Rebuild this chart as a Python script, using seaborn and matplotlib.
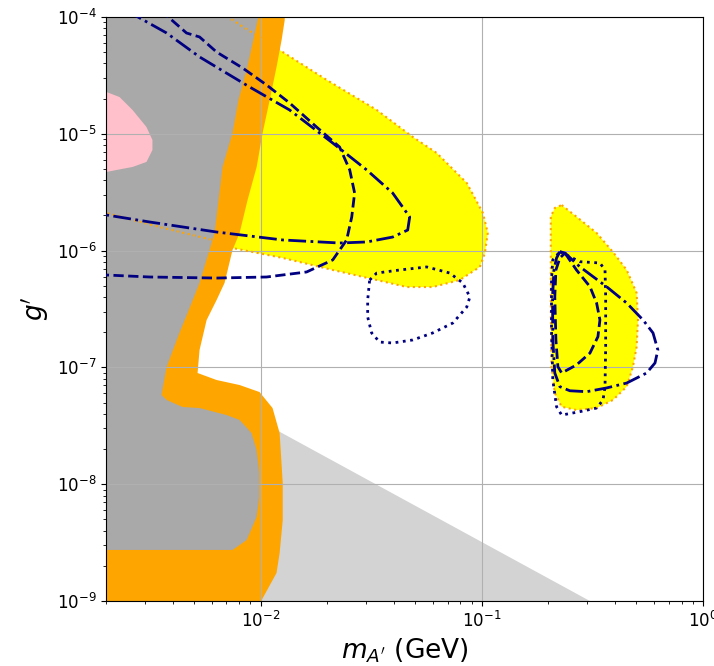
import numpy as np
import matplotlib
matplotlib.use("Agg")
import matplotlib.pyplot as plt
import seaborn as sns

# ---------------------------------------------------------------
# Exclusion / sensitivity regions in the (m_A', g') plane.
# All coordinates are stored as log10 values: log10(m / GeV), log10(g').
# ---------------------------------------------------------------

# Excluded region from beam dump / supernova (dark gray, left)
gray_logm = [-2.75, -2.005, -2.010, -2.060, -2.100, -2.127, -2.172, -2.208, -2.276,
             -2.330, -2.367, -2.425, -2.448, -2.425, -2.353, -2.276, -2.154, -2.095,
             -2.041, -2.018, -2.005, -2.005, -2.018, -2.063, -2.127, -2.75]
gray_logg = [-3.94, -3.94, -4.0, -4.428, -4.711, -4.993, -5.284, -5.849, -6.277,
             -6.534, -6.705, -6.997, -7.236, -7.279, -7.339, -7.348, -7.408, -7.450,
             -7.562, -7.707, -7.904, -8.110, -8.281, -8.478, -8.563, -8.563]

# Orange band
orange_logm = [-2.75, -1.891, -1.891, -1.905, -1.928, -1.959, -1.991, -2.018, -2.059,
               -2.095, -2.127, -2.163, -2.199, -2.244, -2.276, -2.285, -2.199, -2.095,
               -2.005, -1.946, -1.914, -1.900, -1.900, -1.914, -1.928, -1.995, -2.005,
               -2.75]
orange_logg = [-3.94, -3.94, -4.026, -4.197, -4.428, -4.711, -4.993, -5.284, -5.567,
               -5.849, -5.995, -6.277, -6.423, -6.594, -6.851, -7.048, -7.108, -7.151,
               -7.211, -7.348, -7.562, -7.990, -8.307, -8.589, -8.760, -8.991, -9.05,
               -9.05]

# Light gray wedge (cosmology bound)
lgray_logm = [-2.02, -2.02, -1.914, -0.463]
lgray_logg = [-9.05, -7.45, -7.551, -9.05]

# Pink island
pink_logm = [-2.75, -2.697, -2.638, -2.579, -2.516, -2.489, -2.489, -2.516, -2.579,
             -2.652, -2.697, -2.75]
pink_logg = [-4.63, -4.642, -4.685, -4.796, -4.942, -5.053, -5.139, -5.241, -5.284,
             -5.310, -5.327, -5.33]

# Yellow projected-reach regions
yellow1_logm = [-2.195, -2.127, -2.036, -1.968, -1.914, -1.701, -1.475, -1.312, -1.204,
                -1.068, -0.995, -0.973, -0.986, -1.009, -1.100, -1.222, -1.339, -1.475,
                -1.674, -1.900, -2.127, -2.217, -2.457, -2.697, -2.75, -2.75]
yellow1_logg = [-3.94, -4.026, -4.137, -4.214, -4.283, -4.539, -4.796, -5.027, -5.164,
                -5.421, -5.678, -5.849, -6.021, -6.140, -6.252, -6.312, -6.312, -6.252,
                -6.166, -6.063, -5.978, -5.909, -5.798, -5.678, -5.67, -3.94]

yellow2_logm = [-0.639, -0.572, -0.481, -0.407, -0.345, -0.300, -0.294, -0.300, -0.317,
                -0.345, -0.407, -0.481, -0.572, -0.639, -0.670, -0.685, -0.688, -0.688,
                -0.688, -0.670, -0.639]
yellow2_logg = [-5.610, -5.710, -5.849, -6.012, -6.166, -6.363, -6.594, -6.823, -6.997,
                -7.165, -7.279, -7.348, -7.365, -7.337, -7.219, -6.994, -6.534, -5.967,
                -5.710, -5.635, -5.610]

# Dash-dot contour
dashdot1_logm = [-2.611, -2.425, -2.276, -2.050, -1.869, -1.674, -1.520, -1.403, -1.326,
                 -1.335, -1.403, -1.520, -1.643, -1.900, -2.199, -2.502, -2.697, -2.75]
dashdot1_logg = [-3.94, -4.137, -4.342, -4.599, -4.796, -5.079, -5.310, -5.507, -5.712,
                 -5.824, -5.884, -5.926, -5.935, -5.909, -5.841, -5.755, -5.695, -5.69]

dashdot2_logm = [-0.647, -0.624, -0.557, -0.436, -0.345, -0.271, -0.226, -0.204, -0.217,
                 -0.255, -0.345, -0.436, -0.526, -0.602, -0.647, -0.670, -0.679, -0.680,
                 -0.674, -0.662, -0.647]
dashdot2_logg = [-6.009, -6.021, -6.138, -6.309, -6.449, -6.594, -6.705, -6.851, -6.962,
                 -7.048, -7.134, -7.176, -7.208, -7.200, -7.165, -7.048, -6.765, -6.395,
                 -6.166, -6.063, -6.009]

# Dashed contour
dashed1_logm = [-2.452, -2.412, -2.335, -2.276, -2.199, -2.081, -1.973, -1.869, -1.747,
                -1.643, -1.597, -1.575, -1.588, -1.611, -1.674, -1.792, -1.973, -2.199,
                -2.502, -2.697, -2.75]
dashed1_logg = [-3.94, -4.009, -4.137, -4.171, -4.300, -4.437, -4.582, -4.736, -4.942,
                -5.113, -5.310, -5.507, -5.712, -5.909, -6.080, -6.183, -6.226, -6.235,
                -6.226, -6.209, -6.205]

dashed2_logm = [-0.624, -0.572, -0.511, -0.481, -0.466, -0.475, -0.511, -0.572, -0.639,
                -0.656, -0.665, -0.670, -0.665, -0.647, -0.624]
dashed2_logg = [-6.021, -6.166, -6.309, -6.449, -6.594, -6.737, -6.877, -6.979, -7.048,
                -6.994, -6.765, -6.395, -6.166, -6.063, -6.021]

# Dotted contour
dotted1_logm = [-1.507, -1.475, -1.371, -1.249, -1.145, -1.086, -1.054, -1.068, -1.131,
                -1.222, -1.312, -1.403, -1.462, -1.498, -1.516, -1.516, -1.507]
dotted1_logg = [-6.252, -6.192, -6.166, -6.140, -6.192, -6.277, -6.397, -6.483, -6.620,
                -6.705, -6.765, -6.791, -6.783, -6.705, -6.568, -6.423, -6.252]

dotted2_logm = [-0.647, -0.557, -0.466, -0.443, -0.440, -0.440, -0.443, -0.452, -0.481,
                -0.557, -0.639, -0.662, -0.679, -0.685, -0.685, -0.679, -0.647]
dotted2_logg = [-6.009, -6.095, -6.106, -6.166, -6.395, -6.823, -7.165, -7.279, -7.348,
                -7.379, -7.408, -7.337, -7.108, -6.680, -6.252, -6.080, -6.009]


def lin(a):
    return 10.0 ** np.asarray(a, dtype=float)


fig = plt.figure(figsize=(7.14, 6.66), dpi=100)
ax = fig.add_axes([106 / 714, 1 - 601 / 666, (703 - 106) / 714, (601 - 17) / 666])
ax.set_xscale("log")
ax.set_yscale("log")

# Filled regions
ax.fill(lin(yellow1_logm), lin(yellow1_logg), color="yellow", lw=0, zorder=1)
ax.fill(lin(yellow2_logm), lin(yellow2_logg), color="yellow", lw=0, zorder=1)
ax.fill(lin(lgray_logm), lin(lgray_logg), color="lightgray", lw=0, zorder=1)
ax.fill(lin(orange_logm), lin(orange_logg), color="orange", lw=0, zorder=1)
ax.fill(lin(gray_logm), lin(gray_logg), color="darkgray", lw=0, zorder=1)
ax.fill(lin(pink_logm), lin(pink_logg), color="pink", lw=0, zorder=1)

# Yellow region outlines
for xm, yg in [(yellow1_logm, yellow1_logg), (yellow2_logm, yellow2_logg)]:
    sns.lineplot(x=lin(xm), y=lin(yg), sort=False, estimator=None, ax=ax,
                 color="orange", linestyle=":", linewidth=1.5, zorder=2)

# Navy contours
contours = [
    (dashdot1_logm, dashdot1_logg, "-."),
    (dashdot2_logm, dashdot2_logg, "-."),
    (dashed1_logm, dashed1_logg, "--"),
    (dashed2_logm, dashed2_logg, "--"),
    (dotted1_logm, dotted1_logg, ":"),
    (dotted2_logm, dotted2_logg, ":"),
]
for xm, yg, ls in contours:
    sns.lineplot(x=lin(xm), y=lin(yg), sort=False, estimator=None, ax=ax,
                 color="navy", linestyle=ls, linewidth=2, zorder=3)

ax.set_xlim(2e-3, 1.0)
ax.set_ylim(1e-9, 1e-4)
ax.grid(True, which="major", color="#b0b0b0", linewidth=0.8)
ax.tick_params(axis="both", which="major", labelsize=12)
ax.set_xlabel(r"$m_{A'}$ (GeV)", fontsize=19, labelpad=4)
ax.set_ylabel(r"$g'$", fontsize=19, labelpad=4)

fig.savefig("out.png", dpi=100)
